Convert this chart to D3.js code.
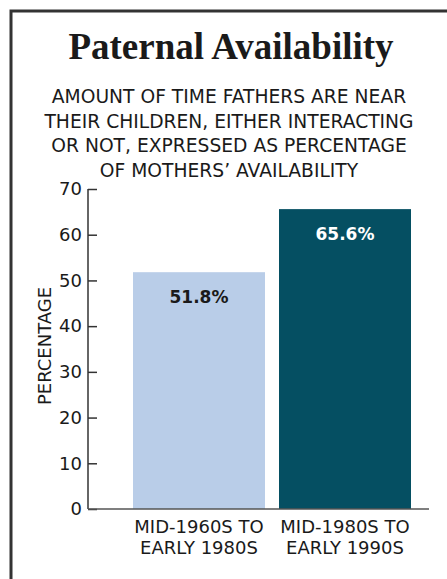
<!DOCTYPE html>
<html lang="en">
<head>
    <meta charset="UTF-8" />
    <title>Paternal Availability</title>
    <style>
        body { margin: 0; background: #fff; }
        svg { display: block; }
        text { font-family: "DejaVu Sans", sans-serif; fill: #1a1a1a; }
    </style>
</head>
<body>
    <svg></svg>
    <script src="https://d3js.org/d3.v7.min.js"></script>
    <script>
        const width = 447;
        const height = 579;

        // data
        const categories = [["MID-1960S TO", "EARLY 1980S"], ["MID-1980S TO", "EARLY 1990S"]];
        const values = [51.8, 65.6];
        const barColors = ["#b9cde8", "#054f62"];
        const labelColors = ["#1a1a1a", "#ffffff"];
        const yTicks = [0, 10, 20, 30, 40, 50, 60, 70];
        const subtitleLines = [
            "AMOUNT OF TIME FATHERS ARE NEAR",
            "THEIR CHILDREN, EITHER INTERACTING",
            "OR NOT, EXPRESSED AS PERCENTAGE",
            "OF MOTHERS\u2019 AVAILABILITY"
        ];

        const svg = d3.select("svg")
            .attr("width", width)
            .attr("height", height);

        // frame (left + top edges only visible)
        svg.append("path")
            .attr("d", `M11,${height} L11,11 L${width},11`)
            .attr("fill", "none")
            .attr("stroke", "#333")
            .attr("stroke-width", 3);

        svg.append("text")
            .attr("x", 231)
            .attr("y", 59)
            .attr("text-anchor", "middle")
            .style("font-family", "'Liberation Serif', 'DejaVu Serif', serif")
            .style("font-weight", "bold")
            .style("font-size", "37px")
            .text("Paternal Availability");

        svg.append("g")
            .selectAll("text")
            .data(subtitleLines)
            .enter()
            .append("text")
            .attr("x", 229)
            .attr("y", (d, i) => 103 + i * 24.6)
            .attr("text-anchor", "middle")
            .style("font-size", "18.7px")
            .text(d => d);

        const y = d3.scaleLinear().domain([0, 70]).range([509, 189]);
        const x = d3.scaleBand()
            .domain(d3.range(values.length))
            .range([126, 418])
            .paddingInner(14 / 146)
            .paddingOuter(7 / 146);

        const axisX = 88;

        const yAxis = svg.append("g")
            .attr("transform", `translate(${axisX},0)`)
            .call(d3.axisLeft(y).tickValues(yTicks).tickSize(-9).tickPadding(6));
        yAxis.select(".domain").remove();
        yAxis.selectAll("line").attr("stroke", "#333").attr("stroke-width", 1.5);
        yAxis.selectAll("text")
            .style("font-family", "'DejaVu Sans', sans-serif")
            .style("font-size", "18px")
            .attr("fill", "#1a1a1a");

        svg.append("text")
            .attr("transform", `translate(51,${(y(0) + y(70)) / 2 - 3}) rotate(-90)`)
            .attr("text-anchor", "middle")
            .style("font-size", "18px")
            .text("PERCENTAGE");

        svg.selectAll("rect.bar")
            .data(values)
            .enter()
            .append("rect")
            .attr("class", "bar")
            .attr("x", (d, i) => x(i))
            .attr("width", x.bandwidth())
            .attr("y", d => y(d))
            .attr("height", d => y(0) - y(d))
            .attr("fill", (d, i) => barColors[i]);

        svg.selectAll("text.val")
            .data(values)
            .enter()
            .append("text")
            .attr("class", "val")
            .attr("x", (d, i) => x(i) + x.bandwidth() / 2)
            .attr("y", d => y(d) + 31)
            .attr("text-anchor", "middle")
            .style("font-size", "17px")
            .style("font-weight", "bold")
            .style("fill", (d, i) => labelColors[i])
            .text(d => d.toFixed(1) + "%");

        // axis lines
        svg.append("line")
            .attr("x1", axisX).attr("x2", axisX)
            .attr("y1", y(70)).attr("y2", y(0))
            .attr("stroke", "#333").attr("stroke-width", 1.5);
        svg.append("line")
            .attr("x1", axisX).attr("x2", 429)
            .attr("y1", y(0)).attr("y2", y(0))
            .attr("stroke", "#555").attr("stroke-width", 1.5);

        const xl = svg.selectAll("g.xl")
            .data(categories)
            .enter()
            .append("g")
            .attr("class", "xl");
        xl.selectAll("text")
            .data((d, i) => d.map(t => ({ t, i })))
            .enter()
            .append("text")
            .attr("x", d => x(d.i) + x.bandwidth() / 2)
            .attr("y", (d, j) => 533 + j * 21)
            .attr("text-anchor", "middle")
            .style("font-size", "18px")
            .text(d => d.t);
    </script>
</body>
</html>
